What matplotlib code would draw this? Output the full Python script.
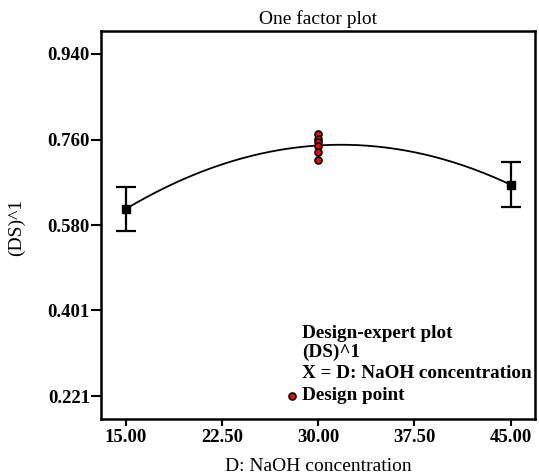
import numpy as np
import matplotlib
matplotlib.use("Agg")
import matplotlib.pyplot as plt

plt.rcParams['font.family'] = ['Liberation Serif', 'DejaVu Serif']

# data
x_levels = [15.0, 45.0]
y_means = [0.614, 0.665]
y_err = [0.046, 0.047]
center_x = 30.0
center_y = [0.772, 0.762, 0.754, 0.746, 0.733, 0.718]
x_ticks = [15.00, 22.50, 30.00, 37.50, 45.00]
x_ticklabels = ["15.00", "22.50", "30.00", "37.50", "45.00"]
y_ticks = [0.221, 0.401, 0.580, 0.760, 0.940]
y_ticklabels = ["0.221", "0.401", "0.580", "0.760", "0.940"]

fig = plt.figure(figsize=(5.39, 4.75), dpi=100)
ax = fig.add_axes([0.1874, 0.1179, 0.8061, 0.8168])

# model curve: quadratic fit through the level means
fx = [x_levels[0], center_x, x_levels[1]]
fy = [y_means[0], float(np.mean(center_y)), y_means[1]]
coef = np.polyfit(fx, fy, 2)
xs = np.linspace(15, 45, 200)
ax.plot(xs, np.polyval(coef, xs), color='black', lw=1.3, zorder=2)

ax.errorbar(x_levels, y_means, yerr=y_err, fmt='s', color='black', ms=6,
            elinewidth=1.6, capsize=7.5, capthick=1.6, zorder=3)
ax.plot([center_x] * len(center_y), center_y, 'o', color='red', mec='black',
        mew=1.2, ms=5, zorder=4)

ax.set_xlim(13.07, 46.93)
ax.set_ylim(0.1727, 0.988)
ax.set_xticks(x_ticks)
ax.set_xticklabels(x_ticklabels, fontsize=13.5, fontweight='bold')
ax.set_yticks(y_ticks)
ax.set_yticklabels(y_ticklabels, fontsize=13.5, fontweight='bold')
ax.tick_params(axis='y', direction='out', length=7, width=1.5, pad=1)
ax.tick_params(axis='x', direction='out', length=5, width=1.5, pad=2)
for s in ax.spines.values():
    s.set_linewidth(1.8)

ax.set_title("One factor plot", fontsize=14, pad=5)
ax.set_xlabel("D: NaOH concentration", fontsize=14)
ax.set_ylabel("(DS)^1", fontsize=14)
ax.xaxis.set_label_coords(0.5, (419 - 467) / 388)
ax.xaxis.label.set_va('center')
ax.yaxis.set_label_coords((16.7 - 101) / 434.7, 0.495)
ax.yaxis.label.set_va('center')

# legend block
tx = 301.7 / 539
for txt, ypix in [("Design-expert plot", 334), ("(DS)^1", 352),
                  ("X = D: NaOH concentration", 373), ("Design point", 395)]:
    fig.text(tx, 1 - ypix / 475, txt, fontsize=13.8, fontweight='bold',
             va='center', ha='left')
fig.lines.append(matplotlib.lines.Line2D([291.7 / 539], [1 - 396 / 475], marker='o',
                 color='red', mec='black', mew=1.2, ms=5,
                 transform=fig.transFigure))

fig.savefig("out.png", dpi=100)
